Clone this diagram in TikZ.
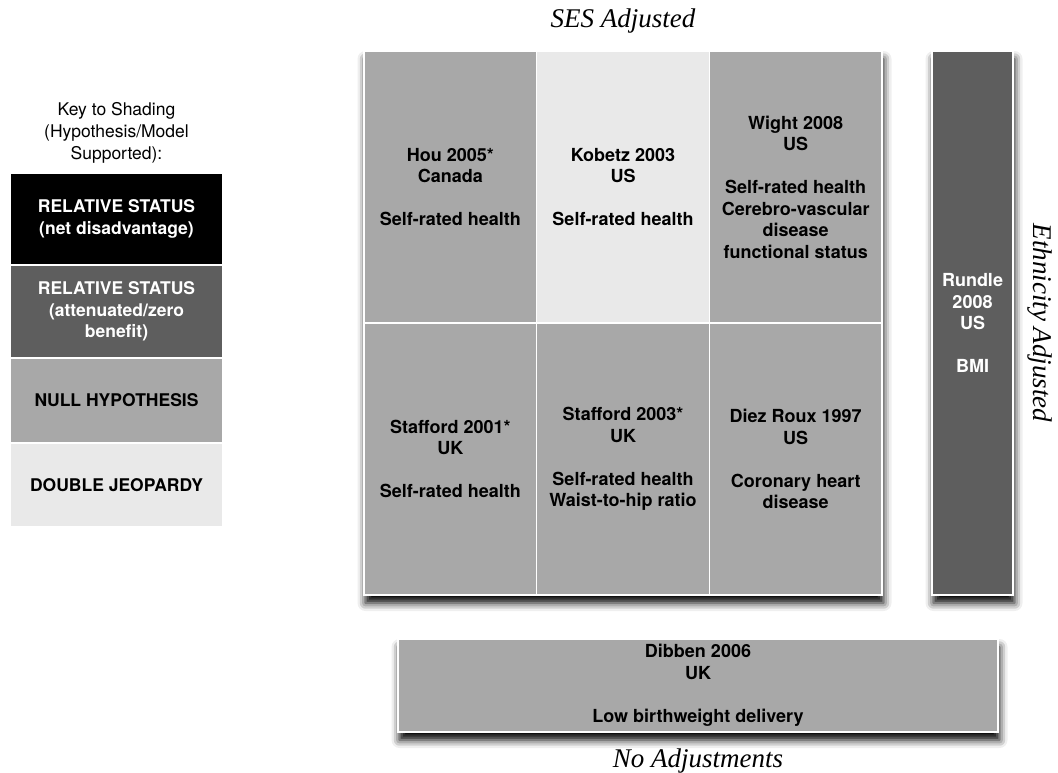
\documentclass[tikz,border=0pt]{standalone}
\usepackage{fontspec}
\setmainfont{TeX Gyre Heros}
\newfontfamily\timesfont{Liberation Serif}
\usetikzlibrary{shadows.blur}
\definecolor{cellgray}{RGB}{168,168,168}
\definecolor{cellpale}{RGB}{233,233,233}
\definecolor{celldark}{RGB}{94,94,94}

\begin{document}
\begin{tikzpicture}[x=1pt, y=-1pt,
    cell/.style={rectangle, draw=white, line width=1.5pt, fill=cellgray, inner sep=0pt, minimum width=172.7pt, minimum height=272pt, align=center, font=\bfseries\fontsize{18}{21.5}\selectfont},
    keybox/.style={rectangle, draw=white, line width=1.5pt, inner sep=0pt, minimum width=213pt, align=center, font=\bfseries\fontsize{17.5}{21.5}\selectfont},
    shade/.style={blur shadow={shadow xshift=1.5pt, shadow yshift=-8pt, shadow blur radius=8pt, shadow opacity=100}},
    axislabel/.style={font=\timesfont\itshape\fontsize{27}{32}\selectfont}
]
    \useasboundingbox (0,0) rectangle (1058,773);

    % Key to shading
    \node[align=center, font=\fontsize{17.5}{21.7}\selectfont] (key_title) at (116.5, 133) {Key to Shading\\(Hypothesis/Model\\Supported):};
    \node[keybox, fill=black, text=white, minimum height=92pt] (key_net) at (116.5, 219) {RELATIVE STATUS\\(net disadvantage)};
    \node[keybox, fill=celldark, text=white, minimum height=93pt] (key_att) at (116.5, 311.5) {RELATIVE STATUS\\(attenuated/zero\\benefit)};
    \node[keybox, fill=cellgray, minimum height=85pt] (key_null) at (116.5, 400.5) {NULL HYPOTHESIS};
    \node[keybox, fill=cellpale, minimum height=84pt] (key_double) at (116.5, 485) {DOUBLE JEOPARDY};

    % SES adjusted grid
    \node[axislabel, anchor=base] (ses_label) at (623, 28) {SES Adjusted};
    \node[rectangle, draw=white, line width=1.5pt, fill=cellgray, minimum width=518pt, minimum height=544pt, shade] (ses_grid) at (623, 323) {};
    \node[cell] (hou) at (450.3, 187) {Hou 2005*\\Canada\\[21.5pt]Self-rated health};
    \node[cell, fill=cellpale] (kobetz) at (623, 187) {Kobetz 2003\\US\\[21.5pt]Self-rated health};
    \node[cell] (wight) at (795.7, 187) {Wight 2008\\US\\[21.5pt]Self-rated health\\Cerebro-vascular\\disease\\functional status};
    \node[cell] (stafford01) at (450.3, 459) {Stafford 2001*\\UK\\[21.5pt]Self-rated health};
    \node[cell] (stafford03) at (623, 459) {Stafford 2003*\\UK\\[21.5pt]Self-rated health\\Waist-to-hip ratio};
    \node[cell] (diezroux) at (795.7, 459) {Diez Roux 1997\\US\\[21.5pt]Coronary heart\\disease};

    % Ethnicity adjusted bar
    \node[cell, fill=celldark, text=white, minimum width=81pt, minimum height=544pt, shade] (rundle) at (972.5, 323) {Rundle\\2008\\US\\[21.5pt]BMI};
    \node[axislabel, rotate=-90] (eth_label) at (1040, 323) {Ethnicity Adjusted};

    % No adjustments
    \node[cell, minimum width=600pt, minimum height=93pt, shade] (dibben) at (698, 685.5) {Dibben 2006\\UK\\[21.5pt]Low birthweight delivery};
    \node[axislabel, anchor=base] (noadj_label) at (698, 767) {No Adjustments};
\end{tikzpicture}
\end{document}
